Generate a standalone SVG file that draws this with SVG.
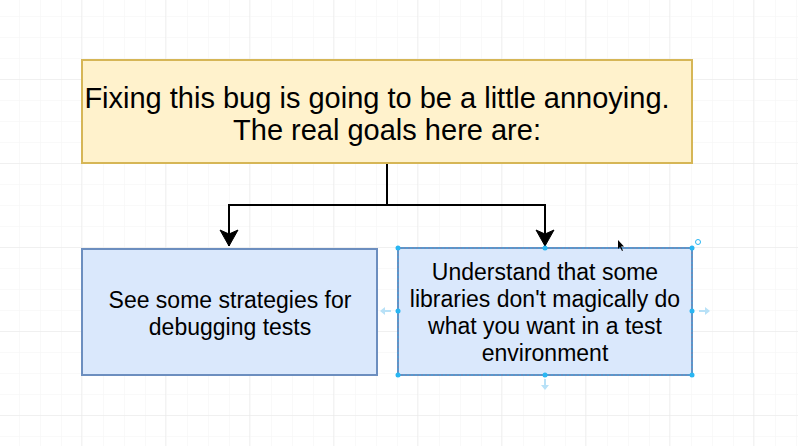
<svg xmlns="http://www.w3.org/2000/svg" width="798" height="446" viewBox="0 0 798 446">
<defs>
<pattern id="minor" x="19" y="16" width="21" height="21" patternUnits="userSpaceOnUse">
<path d="M0 0V21M0 0H21" fill="none" stroke="#f3f3f3" stroke-width="1"/>
</pattern>
<pattern id="major" x="81" y="79" width="84" height="84" patternUnits="userSpaceOnUse">
<path d="M0 0V84M0 0H84" fill="none" stroke="#e8e8e8" stroke-width="1"/>
</pattern>
<marker id="arrow" viewBox="0 0 20 20" refX="18" refY="10" markerWidth="20" markerHeight="20" markerUnits="userSpaceOnUse" orient="auto">
<path d="M18 10 L2 1 L6 10 L2 19 Z" fill="#000" stroke="#000" stroke-width="1" stroke-linejoin="miter"/>
</marker>
<style>
.t{font-family:"Liberation Sans",Arial,Helvetica,sans-serif;fill:#000;text-anchor:middle}
.big{font-size:29px}
.sm{font-size:23px}
.blue{fill:#dae8fc;stroke:#6c8ebf;stroke-width:2}
.yel{fill:#fff2cc;stroke:#d6b656;stroke-width:2}
.h{fill:#29b6f2}
.ha{fill:#b8e1f7}
</style>
</defs>
<rect width="798" height="446" fill="#fff"/>
<rect width="798" height="446" fill="url(#minor)"/>
<rect width="798" height="446" fill="url(#major)"/>

<g id="connectors" fill="none" stroke="#000" stroke-width="2">
<path d="M387 164V205H229V246" marker-end="url(#arrow)"/>
<path d="M387 205H545V246" marker-end="url(#arrow)"/>
</g>

<g id="top">
<rect class="yel" x="82" y="60" width="610" height="103"/>
<text class="t big" x="377" y="108">Fixing this bug is going to be a little annoying.</text>
<text class="t big" x="387" y="140">The real goals here are:</text>
</g>

<g id="left">
<rect class="blue" x="82" y="249" width="295" height="126"/>
<text class="t sm" x="230" y="308">See some strategies for</text>
<text class="t sm" x="230" y="335">debugging tests</text>
</g>

<g id="right">
<rect class="blue" x="398" y="248" width="294" height="127"/>
<text class="t sm" x="545" y="280">Understand that some</text>
<text class="t sm" x="545" y="307">libraries don't magically do</text>
<text class="t sm" x="545" y="334">what you want in a test</text>
<text class="t sm" x="545" y="361">environment</text>
</g>

<g id="selection">
<rect x="398" y="248" width="294" height="127" fill="none" stroke="#29b6f2" stroke-width="1" stroke-dasharray="2 2" opacity="0.6"/>
<circle class="h" cx="398" cy="248" r="2.5"/>
<circle class="h" cx="545" cy="248" r="2.5"/>
<circle class="h" cx="692" cy="248" r="2.5"/>
<circle class="h" cx="398" cy="311" r="2.5"/>
<circle class="h" cx="692" cy="311" r="2.5"/>
<circle class="h" cx="398" cy="375" r="2.5"/>
<circle class="h" cx="545" cy="375" r="2.5"/>
<circle class="h" cx="692" cy="375" r="2.5"/>
<path class="ha" d="M380 311 l5 -4 v3 h6 v2 h-6 v3 z"/>
<path class="ha" d="M710 311 l-5 -4 v3 h-6 v2 h6 v3 z"/>
<path class="ha" d="M545 390 l-4 -5 h3 v-6 h2 v6 h3 z"/>
<circle cx="698" cy="242" r="2.5" fill="none" stroke="#29b6f2" stroke-width="1"/>
<path d="M618 240 v9 l2 -2 l2 4 l1 -0.5 l-2 -4 h3 z" fill="#000"/>
</g>
</svg>
